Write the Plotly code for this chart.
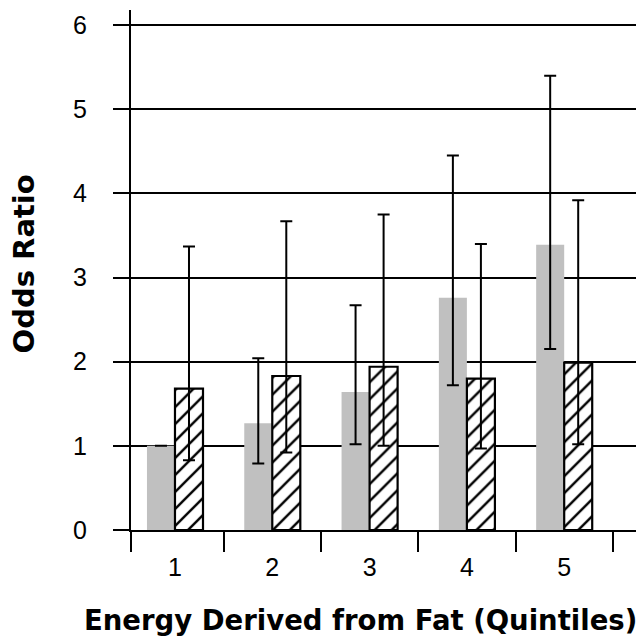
import plotly.graph_objects as go

quintiles = [1, 2, 3, 4, 5]
tick_labels = ["1", "2", "3", "4", "5"]

gray_or = [1.0, 1.27, 1.64, 2.76, 3.39]
gray_upper = [None, 2.04, 2.67, 4.45, 5.40]
gray_lower = [None, 0.79, 1.02, 1.72, 2.15]

hatch_or = [1.68, 1.83, 1.94, 1.80, 1.99]
hatch_upper = [3.37, 3.67, 3.75, 3.40, 3.92]
hatch_lower = [0.83, 0.92, 1.00, 0.97, 1.02]

y_ticks = [0, 1, 2, 3, 4, 5, 6]

x_title = "Energy Derived from Fat (Quintiles)"
y_title = "Odds Ratio"

TICK_FONT = "Liberation Sans, Arial, sans-serif"
TITLE_FONT = "DejaVu Sans, Arial, sans-serif"


def plus(vals, bounds):
    return [None if b is None else b - v for v, b in zip(vals, bounds)]


def minus(vals, bounds):
    return [None if b is None else v - b for v, b in zip(vals, bounds)]


fig = go.Figure()
fig.add_trace(go.Bar(
    x=quintiles, y=gray_or,
    marker=dict(color="#c0c0c0", line=dict(width=0)),
    error_y=dict(type="data", symmetric=False,
                 array=plus(gray_or, gray_upper),
                 arrayminus=minus(gray_or, gray_lower),
                 color="black", thickness=2, width=6),
    showlegend=False,
))
fig.add_trace(go.Bar(
    x=quintiles, y=hatch_or,
    marker=dict(color="white", line=dict(color="black", width=2.2),
                pattern=dict(shape="/", fgcolor="black", bgcolor="white",
                             size=12, solidity=0.2, fillmode="replace")),
    error_y=dict(type="data", symmetric=False,
                 array=plus(hatch_or, hatch_upper),
                 arrayminus=minus(hatch_or, hatch_lower),
                 color="black", thickness=2, width=6),
    showlegend=False,
))

x_lo, x_hi = 0.548, 5.738
boundaries = [x_lo] + [q + 0.5 for q in quintiles]

fig.update_layout(
    width=644, height=637,
    margin=dict(l=123, r=16, t=2, b=115),
    paper_bgcolor="white", plot_bgcolor="white",
    barmode="group", bargap=0.424, bargroupgap=0,
    font=dict(family=TICK_FONT, color="black", size=25),
    xaxis=dict(
        range=[x_lo, x_hi], automargin=False,
        tickvals=quintiles, ticktext=tick_labels,
        ticks="", showgrid=False, zeroline=False,
        showline=True, linecolor="black", linewidth=2,
        ticklabelstandoff=14,
        tickfont=dict(size=25, family=TICK_FONT, color="black"),
        minor=dict(tickvals=boundaries, ticks="outside", ticklen=20,
                   tickwidth=2, tickcolor="black", showgrid=False),
    ),
    yaxis=dict(
        range=[0, 6.18], automargin=False,
        tickvals=y_ticks, ticktext=[str(t) for t in y_ticks],
        ticks="outside", ticklen=16, tickwidth=2, tickcolor="black",
        showgrid=True, gridcolor="black", gridwidth=2,
        zeroline=False,
        showline=True, linecolor="black", linewidth=2,
        ticklabelstandoff=21,
        tickfont=dict(size=25, family=TICK_FONT, color="black"),
    ),
    annotations=[
        dict(text="<b>" + x_title + "</b>", xref="paper", yref="paper",
             x=0.455, y=-0.174, xanchor="center", yanchor="middle",
             showarrow=False,
             font=dict(size=27.5, family=TITLE_FONT, color="black")),
        dict(text="<b>" + y_title + "</b>", xref="paper", yref="paper",
             x=-0.212, y=0.5125, xanchor="center", yanchor="middle",
             textangle=-90, showarrow=False,
             font=dict(size=29, family=TITLE_FONT, color="black")),
    ],
)

fig.write_html("out.html")
